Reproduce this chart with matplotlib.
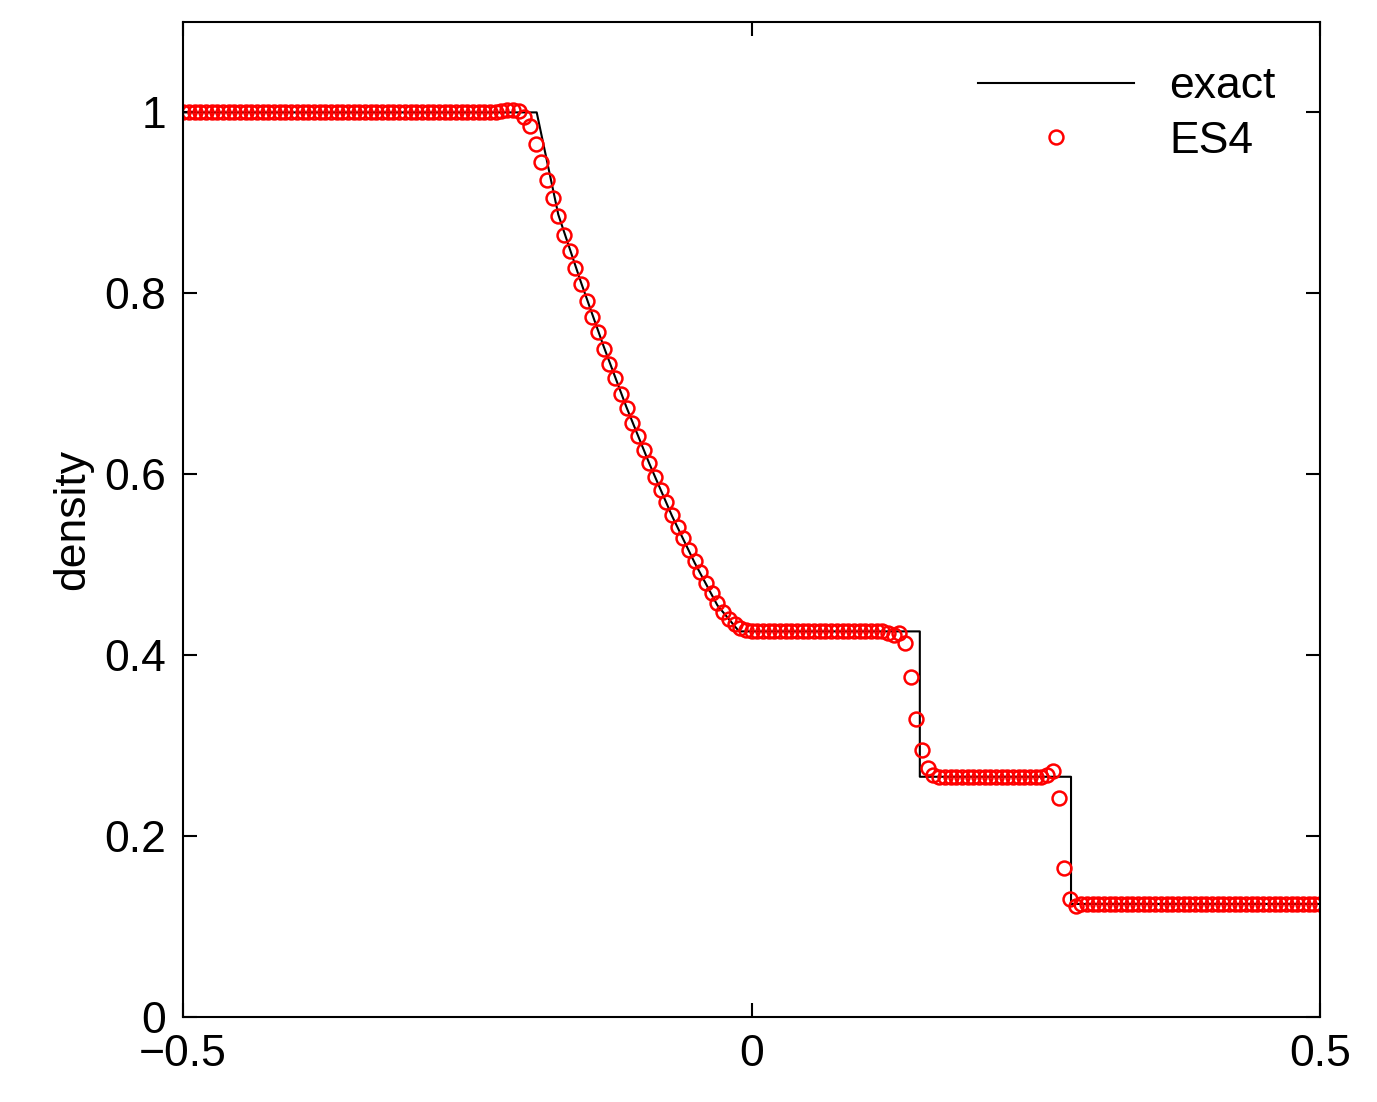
import numpy as np
import matplotlib
matplotlib.use("Agg")
import matplotlib.pyplot as plt

plt.rcParams['font.family'] = ['Liberation Sans', 'DejaVu Sans']

# exact solution (piecewise)
exact_x = [-0.5, -0.189, -0.17, -0.15, -0.13, -0.11, -0.09, -0.07, -0.05, -0.03, -0.011,
           0.148, 0.148, 0.281, 0.281, 0.5]
exact_rho = [1.0, 1.0, 0.887, 0.812, 0.741, 0.674, 0.612, 0.554, 0.502, 0.455, 0.4263,
             0.4263, 0.2656, 0.2656, 0.125, 0.125]

# ES4 numerical solution
es4_x = np.linspace(-0.5, 0.5, 201)
rare = [0.995, 0.985, 0.965, 0.945, 0.925, 0.905, 0.885, 0.865, 0.847, 0.828, 0.81,
        0.792, 0.774, 0.757, 0.739, 0.722, 0.706, 0.689, 0.673, 0.657, 0.642, 0.627,
        0.612, 0.597, 0.583, 0.569, 0.555, 0.542, 0.529, 0.516, 0.504, 0.492, 0.480,
        0.469, 0.458, 0.448, 0.440, 0.434, 0.430, 0.428, 0.427]
es4_rho = ([1.0] * 56 + [1.002, 1.003, 1.003, 1.002] + rare + [0.4263] * 23 +
           [0.424, 0.422, 0.424, 0.414, 0.376, 0.33, 0.295, 0.275, 0.267] +
           [0.2656] * 19 + [0.268, 0.272, 0.242, 0.165, 0.13, 0.123] + [0.125] * 43)

fig = plt.figure(figsize=(13.77, 11.02), dpi=100)
ax = fig.add_axes([0.133, 0.0771, 0.8256, 0.903])
ax.plot(exact_x, exact_rho, color='black', lw=1.5, label='exact')
ax.plot(es4_x, es4_rho, 'o', mfc='none', mec='red', mew=1.8, ms=10, label='ES4')
ax.set_xlim(-0.5, 0.5)
ax.set_ylim(0, 1.1)
ax.set_xticks([-0.5, 0, 0.5])
ax.set_xticklabels(['\u22120.5', '0', '0.5'])
ax.set_yticks([0, 0.2, 0.4, 0.6, 0.8, 1.0])
ax.set_yticklabels(['0', '0.2', '0.4', '0.6', '0.8', '1'])
ax.tick_params(direction='in', length=10, width=1.5, labelsize=32, top=True, right=True, pad=12)
for s in ax.spines.values():
    s.set_linewidth(1.5)
ax.set_ylabel('density', fontsize=32, labelpad=8)
ax.legend(loc='upper right', frameon=False, fontsize=32, handlelength=3.5,
          borderaxespad=0.6, labelspacing=0.3)
fig.savefig('out.png', dpi=100)
